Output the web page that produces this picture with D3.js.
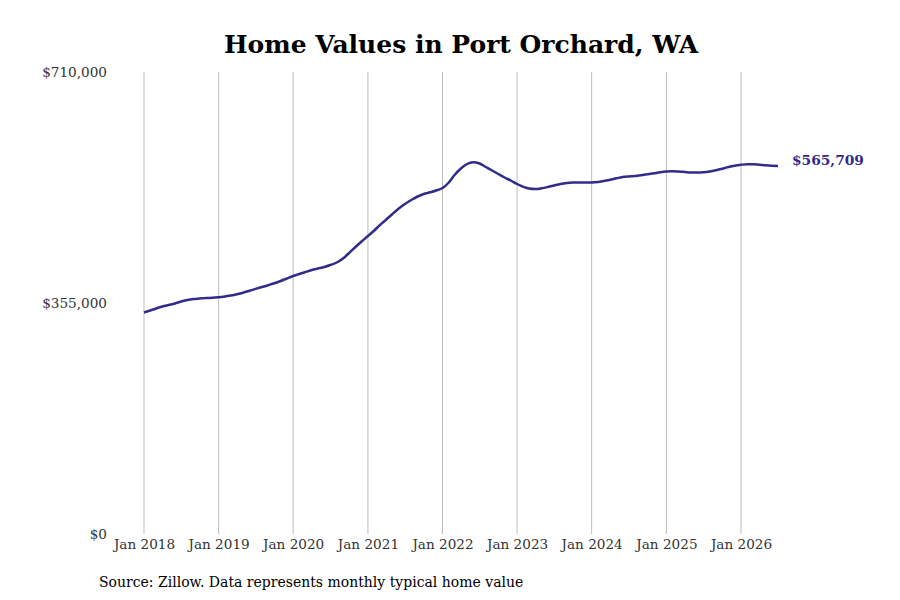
<!DOCTYPE html>
<html><head><meta charset="utf-8">
<script src="https://cdn.jsdelivr.net/npm/d3@7"></script>
<style>body{margin:0;background:#fff}svg{display:block}</style>
</head><body>
<svg id="chart" width="900" height="600"></svg>
<script>
const title = "Home Values in Port Orchard, WA";
const source = "Source: Zillow. Data represents monthly typical home value";
const startMonth = "2018-01";
const values = [
  340400,343470,346550,349620,351930,354230,357310,359610,361150,361920,362680,362990,
  363760,364990,366530,368530,370830,373750,376670,379590,382360,385280,388810,392650,
  396490,399570,402640,405720,408020,410330,413400,417250,423390,431840,441060,449520,
  457970,466420,474870,483330,491780,500230,507140,513290,518670,522510,525120,527890,
  531730,540190,551710,561700,568620,571230,569390,564010,558630,553250,547870,543260,
  537880,533570,530960,530200,531270,533270,535570,537880,539420,540190,540190,540030,
  540190,540950,542490,544330,546640,548640,549560,550170,551400,552790,554320,555860,
  557090,557550,557090,556320,555550,555400,555860,557090,559090,561390,564010,566010,
  567390,568310,568310,567540,566620,566010,565709
];
const yTicks = [0, 355000, 710000];
const xTickYears = [2018,2019,2020,2021,2022,2023,2024,2025,2026];
const lastLabel = "$565,709";

const svg = d3.select("#chart");
const parse = d3.timeParse("%Y-%m");
const t0 = parse(startMonth);
const data = values.map((v,i)=>({date:d3.timeMonth.offset(t0,i), value:v}));

const x = d3.scaleTime().domain([new Date(2018,0,1), new Date(2026,0,1)]).range([144,741]);
const y = d3.scaleLinear().domain([0,710000]).range([534,72]);

const font = "DejaVu Serif";

svg.append("text").attr("x",461).attr("y",53).attr("text-anchor","middle")
  .attr("font-family",font).attr("font-weight","bold").attr("font-size",25).attr("fill","#000").text(title);

// vertical gridlines
const xTicks = xTickYears.map(yr=>new Date(yr,0,1));
svg.append("g").selectAll("line").data(xTicks).join("line")
  .attr("x1",d=>x(d)).attr("x2",d=>x(d)).attr("y1",y(710000)).attr("y2",y(0))
  .attr("stroke","#bdbdbd").attr("stroke-width",1);

// x axis labels
const xAxis = d3.axisBottom(x).tickValues(xTicks).tickFormat(d3.timeFormat("Jan %Y")).tickSize(0).tickPadding(5);
const gx = svg.append("g").attr("transform","translate(0,534)").call(xAxis);
gx.select(".domain").remove();
gx.selectAll("text").attr("font-family",font).attr("font-size",13.6).attr("fill","#333");

// y axis labels
const yAxis = d3.axisLeft(y).tickValues(yTicks).tickFormat(d=>"$"+d3.format(",")(d)).tickSize(0).tickPadding(0);
const gy = svg.append("g").attr("transform","translate(107,0)").call(yAxis);
gy.select(".domain").remove();
gy.selectAll("text").attr("font-family",font).attr("font-size",13.6).attr("fill","#333");

// line
const line = d3.line().x(d=>x(d.date)).y(d=>y(d.value)).curve(d3.curveMonotoneX);
svg.append("path").datum(data).attr("d",line).attr("fill","none")
  .attr("stroke","#2f2c8a").attr("stroke-width",2.5).attr("stroke-linejoin","round");

const last = data[data.length-1];
svg.append("text").attr("x",x(last.date)+14).attr("y",y(last.value)-5).attr("dy","0.32em")
  .attr("font-family",font).attr("font-weight","bold").attr("font-size",13.8).attr("fill","#2f2c8a").text(lastLabel);

svg.append("text").attr("x",99).attr("y",587).attr("font-family",font).attr("font-size",14).attr("fill","#000").text(source);
</script>
</body></html>
